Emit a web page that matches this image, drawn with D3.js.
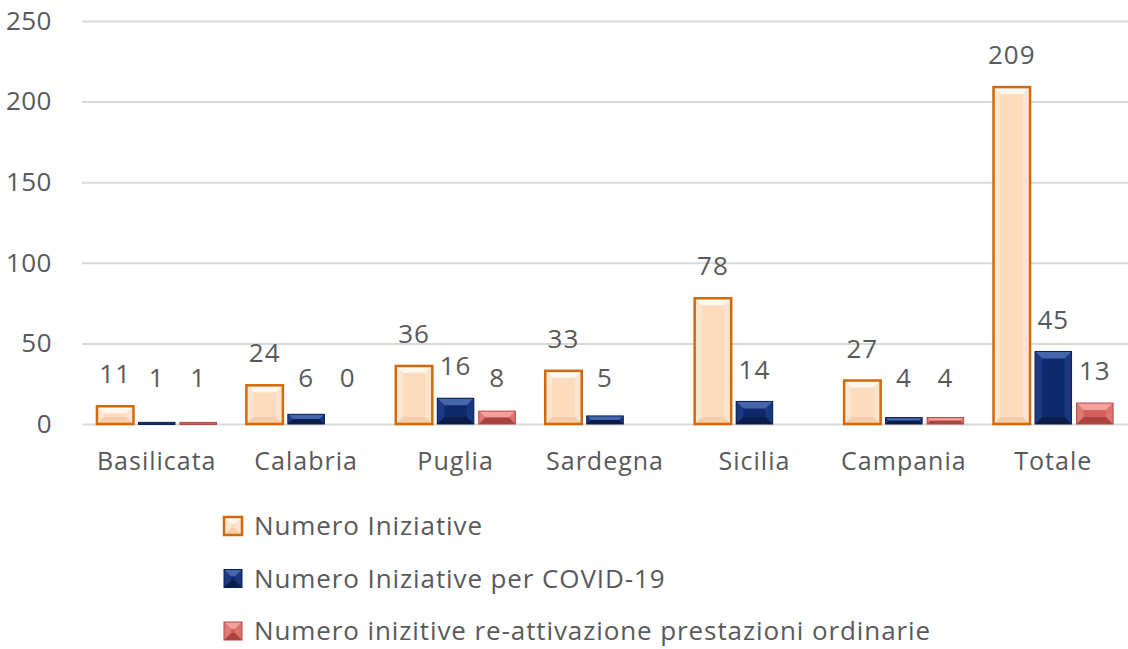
<!DOCTYPE html>
<html lang="it">
<head>
<meta charset="UTF-8">
<title>Numero Iniziative per regione</title>
<script src="https://d3js.org/d3.v7.min.js"></script>
<style>
    body { margin: 0; background: #fff; }
    text { font-family: "Open Sans", sans-serif; fill: #595959; }
</style>
</head>
<body>
<div id="chart"></div>
<script>
    var regions = ["Basilicata", "Calabria", "Puglia", "Sardegna", "Sicilia", "Campania", "Totale"];
    var iniziative = [11, 24, 36, 33, 78, 27, 209];
    var covid = [1, 6, 16, 5, 14, 4, 45];
    var ordinarie = [1, 0, 8, null, null, 4, 13];
    var yTicks = [0, 50, 100, 150, 200, 250];
    var seriesNames = ["Numero Iniziative", "Numero Iniziative per COVID-19", "Numero inizitive re-attivazione prestazioni ordinarie"];

    var width = 1128, height = 649;
    var margin = { left: 82, right: 0, top: 21, bottom: 225 };

    var styles = [
        { fill: "#fddcbd", light: "#fff8ef", dark: "#f5cfab", side: "#fbe6d2", stroke: "#d2690c" },
        { fill: "#0f2a6c", light: "#4565ad", dark: "#0a1c4a", side: "#1c3a84", stroke: "#0b1f52" },
        { fill: "#d8605c", light: "#f3a19c", dark: "#a94340", side: "#e07873", stroke: "#b24a46" }
    ];

    var svg = d3.select("#chart").append("svg")
        .attr("width", width)
        .attr("height", height);

    var x0 = d3.scaleBand()
        .domain(regions)
        .range([margin.left, width - margin.right])
        .paddingInner(0.2)
        .paddingOuter(0.1);

    var x1 = d3.scaleBand()
        .domain([0, 1, 2])
        .range([0, x0.bandwidth()])
        .paddingInner(0.12);

    var y = d3.scaleLinear()
        .domain([0, 250])
        .range([height - margin.bottom, margin.top]);

    // gridlines
    svg.append("g").selectAll("line")
        .data(yTicks)
        .enter().append("line")
        .attr("x1", margin.left)
        .attr("x2", width - margin.right)
        .attr("y1", function (d) { return y(d) + 0.5; })
        .attr("y2", function (d) { return y(d) + 0.5; })
        .attr("stroke", "#d9d9d9")
        .attr("stroke-width", 2);

    // y axis labels
    var yAxis = d3.axisLeft(y).tickValues(yTicks).tickSize(0).tickPadding(14);
    var yg = svg.append("g")
        .attr("transform", "translate(" + (margin.left - 16) + ",0)")
        .call(yAxis);
    yg.select(".domain").remove();
    yg.selectAll("text").style("font-size", "26px").style("letter-spacing", "0.5px").attr("fill", "#595959");

    // x axis labels
    var xAxis = d3.axisBottom(x0).tickSize(0).tickPadding(28);
    var xg = svg.append("g")
        .attr("transform", "translate(0," + y(0) + ")")
        .call(xAxis);
    xg.select(".domain").remove();
    xg.selectAll("text").style("font-size", "25px").style("letter-spacing", "1px").attr("fill", "#595959");

    function bevelBar(g, bx, by, bw, bh, st) {
        if (bh <= 0) return;
        var b = Math.min(7, bh / 2, bw / 2);
        g.append("rect").attr("x", bx).attr("y", by).attr("width", bw).attr("height", bh).attr("fill", st.fill);
        // top
        g.append("polygon").attr("points", [[bx, by], [bx + bw, by], [bx + bw - b, by + b], [bx + b, by + b]].join(" "))
            .attr("fill", st.light);
        // bottom
        g.append("polygon").attr("points", [[bx, by + bh], [bx + bw, by + bh], [bx + bw - b, by + bh - b], [bx + b, by + bh - b]].join(" "))
            .attr("fill", st.dark);
        // sides
        g.append("polygon").attr("points", [[bx, by], [bx + b, by + b], [bx + b, by + bh - b], [bx, by + bh]].join(" "))
            .attr("fill", st.side);
        g.append("polygon").attr("points", [[bx + bw, by], [bx + bw - b, by + b], [bx + bw - b, by + bh - b], [bx + bw, by + bh]].join(" "))
            .attr("fill", st.side).attr("opacity", 0.8);
        g.append("rect").attr("x", bx).attr("y", by).attr("width", bw).attr("height", bh)
            .attr("fill", "none").attr("stroke", st.stroke).attr("stroke-width", st === styles[0] ? 2.5 : 1);
    }

    var series = [iniziative, covid, ordinarie];
    var bars = svg.append("g");
    var labels = svg.append("g");

    series.forEach(function (vals, si) {
        regions.forEach(function (r, i) {
            var v = vals[i];
            if (v === null) return;
            var bx = x0(r) + x1(si);
            var bw = x1.bandwidth();
            var top = y(v);
            bevelBar(bars, bx, top, bw, Math.max(y(0) - top, v > 0 ? 2 : 0), styles[si]);
            labels.append("text")
                .attr("x", bx + bw / 2)
                .attr("y", Math.min(top - 32, y(0) - 46))
                .attr("text-anchor", "middle")
                .attr("dy", "0.35em")
                .style("font-size", "26px")
                .style("letter-spacing", "1px")
                .text(v);
        });
    });

    // legend
    var legend = svg.append("g").attr("transform", "translate(224,526)");
    seriesNames.forEach(function (name, i) {
        var lg = legend.append("g").attr("transform", "translate(0," + (i * 52.5) + ")");
        bevelBar(lg, 0, -9, 18, 18, styles[i]);
        lg.append("text")
            .attr("x", 30)
            .attr("dy", "0.35em")
            .style("font-size", "26px")
            .style("letter-spacing", "0.9px")
            .text(name);
    });
</script>
</body>
</html>
